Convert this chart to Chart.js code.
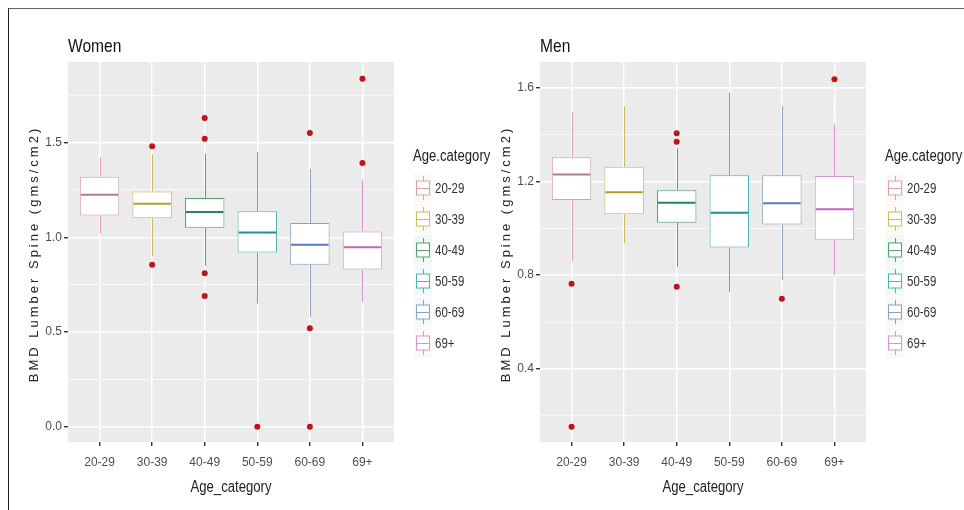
<!DOCTYPE html>
<html>
<head>
<meta charset="utf-8">
<script src="https://cdn.jsdelivr.net/npm/chart.js@4.4.0/dist/chart.umd.min.js"></script>
<style>
    html, body { margin: 0; padding: 0; background: #fff; }
    #page { position: relative; width: 964px; height: 510px; overflow: hidden; background: #fff; }
    #frame { position: absolute; left: 8px; top: 8px; width: 970px; height: 520px; border-left: 1px solid #222; border-top: 1px solid #666; }
    .panel { position: absolute; top: 0; height: 510px; }
</style>
</head>
<body>
<div id="page">
    <div id="frame"></div>
    <div class="panel" style="left:0;width:492px"><canvas id="womenChart" width="492" height="510"></canvas></div>
    <div class="panel" style="left:472px;width:492px"><canvas id="menChart" width="492" height="510"></canvas></div>
</div>
<script>
// --- Data ---
const categories = ["20-29", "30-39", "40-49", "50-59", "60-69", "69+"];

const womenLow = [1.02, 0.90, 0.85, 0.65, 0.58, 0.66];
const womenQ1 = [1.115, 1.10, 1.05, 0.92, 0.855, 0.83];
const womenMedian = [1.225, 1.177, 1.134, 1.026, 0.961, 0.947];
const womenQ3 = [1.32, 1.242, 1.207, 1.137, 1.075, 1.031];
const womenHigh = [1.42, 1.436, 1.44, 1.45, 1.36, 1.30];
const womenOutliers = [[], [1.48, 0.855], [1.63, 1.52, 0.81, 0.69], [0.0], [1.55, 0.52, 0.0], [1.837, 1.392]];
const womenTicks = [0, 0.5, 1.0, 1.5];
const womenMinorTicks = [0.25, 0.75, 1.25, 1.75];

const menLow = [0.861, 0.935, 0.836, 0.727, 0.779, 0.80];
const menQ1 = [1.12, 1.059, 1.023, 0.918, 1.016, 0.949];
const menMedian = [1.229, 1.153, 1.108, 1.066, 1.106, 1.081];
const menQ3 = [1.302, 1.262, 1.162, 1.225, 1.225, 1.222];
const menHigh = [1.493, 1.52, 1.34, 1.577, 1.52, 1.442];
const menOutliers = [[0.763, 0.154], [], [1.404, 1.368, 0.75], [], [0.699], [1.634]];
const menTicks = [0.4, 0.8, 1.2, 1.6];
const menMinorTicks = [0.2, 0.6, 1.0, 1.4];

// --- Styles ---
const boxColors = ["#d9a3a4", "#c9bc62", "#52a36c", "#4fb3b4", "#8aa2be", "#d993d2"];
const medianColors = ["#b8788a", "#aea12a", "#218a4e", "#1f9093", "#5b78c6", "#c565b8"];
const outlierColor = "#c0141c";
const sans = '"Liberation Sans", Arial, sans-serif';

// text squeezed sideways, close to the narrow face of the original
function narrowText(ctx, text, x, y, size, color, align) {
    ctx.save();
    ctx.font = size + 'px ' + sans;
    ctx.fillStyle = color;
    ctx.textAlign = align || 'left';
    ctx.textBaseline = 'middle';
    ctx.translate(x, y);
    ctx.scale(0.82, 1);
    ctx.fillText(text, 0, 0);
    ctx.restore();
}

function makeBoxChart(canvasId, title, low, q1, med, q3, high, outliers, major, minor, yMin, yMax) {
    const points = [];
    outliers.forEach((list, i) => list.forEach(v => points.push({ x: i, y: v })));

    const extras = {
        id: 'boxExtras',
        beforeDraw(chart) {
            const { ctx, chartArea: a } = chart;
            ctx.save();
            ctx.fillStyle = '#ebebeb';
            ctx.fillRect(a.left, a.top, a.right - a.left, a.bottom - a.top);
            ctx.restore();
        },
        beforeDatasetsDraw(chart) {
            // whiskers
            const { ctx, scales: { x, y } } = chart;
            ctx.save();
            ctx.lineWidth = 1;
            categories.forEach((c, i) => {
                const px = Math.round(x.getPixelForValue(i)) + 0.5;
                ctx.strokeStyle = boxColors[i];
                ctx.beginPath();
                ctx.moveTo(px, y.getPixelForValue(high[i]));
                ctx.lineTo(px, y.getPixelForValue(q3[i]));
                ctx.moveTo(px, y.getPixelForValue(q1[i]));
                ctx.lineTo(px, y.getPixelForValue(low[i]));
                ctx.stroke();
            });
            ctx.restore();
        },
        afterDatasetsDraw(chart) {
            // medians
            const { ctx, scales: { y } } = chart;
            const bars = chart.getDatasetMeta(1).data;
            ctx.save();
            ctx.lineWidth = 2;
            bars.forEach((bar, i) => {
                const py = y.getPixelForValue(med[i]);
                ctx.strokeStyle = medianColors[i];
                ctx.beginPath();
                ctx.moveTo(bar.x - bar.width / 2 + 1, py);
                ctx.lineTo(bar.x + bar.width / 2 - 1, py);
                ctx.stroke();
            });
            ctx.restore();
        },
        afterDraw(chart) {
            const { ctx, chartArea: a } = chart;
            narrowText(ctx, title, a.left, 47, 19, '#111');
            narrowText(ctx, 'Age_category', (a.left + a.right) / 2, 488, 16, '#222', 'center');

            // y axis title
            ctx.save();
            ctx.translate(34, (a.top + a.bottom) / 2 + 2);
            ctx.rotate(-Math.PI / 2);
            ctx.font = '13px ' + sans;
            ctx.letterSpacing = '3px';
            ctx.fillStyle = '#222';
            ctx.textAlign = 'center';
            ctx.textBaseline = 'middle';
            ctx.fillText('BMD Lumber Spine (gms/cm2)', 0, 0);
            ctx.restore();

            // legend
            const lx = a.right + 19;
            narrowText(ctx, 'Age.category', lx, 157, 16, '#222');
            categories.forEach((c, i) => {
                const cy = 188 + i * 31;
                const kx = lx + 1;
                ctx.save();
                ctx.globalAlpha = 0.08;
                ctx.fillStyle = boxColors[i];
                ctx.fillRect(kx, cy - 15, 18, 30);
                ctx.globalAlpha = 1;
                ctx.strokeStyle = boxColors[i];
                ctx.lineWidth = 1;
                const mx = Math.round(kx + 9) + 0.5;
                ctx.beginPath();
                ctx.moveTo(mx, cy - 12); ctx.lineTo(mx, cy - 7);
                ctx.moveTo(mx, cy + 7); ctx.lineTo(mx, cy + 12);
                ctx.stroke();
                ctx.fillStyle = '#fff';
                ctx.fillRect(kx + 2.5, cy - 7, 13, 14);
                ctx.strokeRect(kx + 2.5, cy - 7, 13, 14);
                ctx.beginPath();
                ctx.moveTo(kx + 2.5, cy + 0.5); ctx.lineTo(kx + 15.5, cy + 0.5);
                ctx.stroke();
                ctx.restore();
                narrowText(ctx, c, kx + 21, cy + 1, 14, '#333');
            });
        }
    };

    return new Chart(document.getElementById(canvasId).getContext('2d'), {
        type: 'bar',
        data: {
            datasets: [
                {
                    type: 'scatter',
                    data: points,
                    pointRadius: 3,
                    pointBackgroundColor: outlierColor,
                    pointBorderWidth: 0,
                    order: 0
                },
                {
                    type: 'bar',
                    data: categories.map((c, i) => ({ x: i, y: [q1[i], q3[i]] })),
                    backgroundColor: '#ffffff',
                    borderColor: boxColors,
                    borderWidth: 1,
                    borderSkipped: false,
                    barPercentage: 0.75,
                    categoryPercentage: 1,
                    order: 1
                }
            ]
        },
        options: {
            responsive: false,
            animation: false,
            layout: { padding: { top: 62, right: 98, left: 0, bottom: 0 } },
            plugins: { legend: { display: false }, tooltip: { enabled: false } },
            scales: {
                x: {
                    type: 'linear',
                    min: -0.6,
                    max: 5.6,
                    offset: false,
                    afterBuildTicks: s => { s.ticks = categories.map((c, i) => ({ value: i })); },
                    afterFit: s => { s.height = 68; },
                    ticks: {
                        callback: v => categories[v],
                        color: '#4d4d4d',
                        font: { family: sans, size: 12 },
                        padding: 9,
                        autoSkip: false,
                        maxRotation: 0
                    },
                    grid: { offset: false, color: '#ffffff', lineWidth: 1.4, tickColor: '#333', tickLength: 4 },
                    border: { display: false }
                },
                y: {
                    min: yMin,
                    max: yMax,
                    afterBuildTicks: s => { s.ticks = major.concat(minor).sort((a, b) => a - b).map(v => ({ value: v })); },
                    afterFit: s => { s.width = 68; },
                    ticks: {
                        callback: v => major.includes(v) ? v.toFixed(1) : '',
                        color: '#4d4d4d',
                        font: { family: sans, size: 12 },
                        padding: 2
                    },
                    grid: {
                        color: '#ffffff',
                        lineWidth: c => major.includes(c.tick.value) ? 1.4 : 0.7,
                        tickColor: c => major.includes(c.tick.value) ? '#333' : 'rgba(0,0,0,0)',
                        tickLength: 4
                    },
                    border: { display: false }
                }
            }
        },
        plugins: [extras]
    });
}

// --- Charts ---
makeBoxChart('womenChart', 'Women', womenLow, womenQ1, womenMedian, womenQ3, womenHigh, womenOutliers,
    womenTicks, womenMinorTicks, -0.08, 1.925);
makeBoxChart('menChart', 'Men', menLow, menQ1, menMedian, menQ3, menHigh, menOutliers,
    menTicks, menMinorTicks, 0.089, 1.708);
</script>
</body>
</html>
